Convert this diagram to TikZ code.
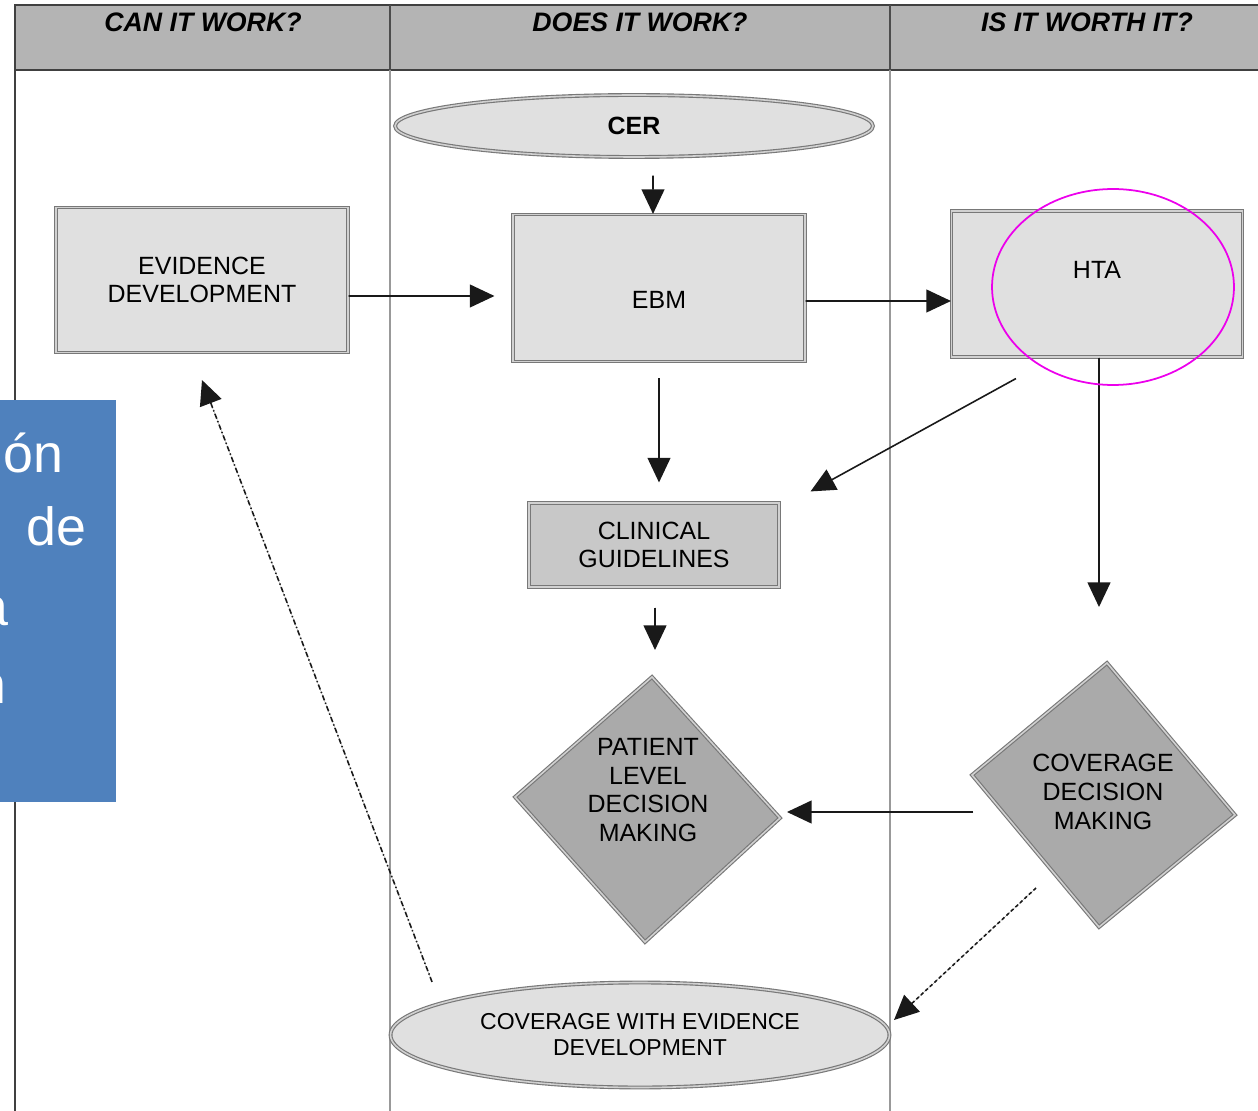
\documentclass[tikz,border=0pt]{standalone}
\usepackage{fontspec}
\setmainfont{Liberation Sans}
\setsansfont{Liberation Sans}
\usetikzlibrary{arrows.meta,positioning,shapes.geometric}
\definecolor{hdrgray}{RGB}{180,180,180}
\definecolor{boxgray}{RGB}{224,224,224}
\definecolor{cggray}{RGB}{200,200,200}
\definecolor{dmgray}{RGB}{170,170,170}
\definecolor{rimgray}{RGB}{120,120,120}
\definecolor{slideblue}{RGB}{79,129,189}
\definecolor{markmag}{RGB}{236,0,236}
\newcommand{\boxfont}{\fontsize{14.2}{16.4}\selectfont}
\newcommand{\cwedfont}{\fontsize{13.1}{14.8}\selectfont}
\newcommand{\hdrfont}{\fontsize{15.2}{18}\selectfont\bfseries\itshape}
\newcommand{\slidefont}{\fontsize{30.6}{36}\selectfont}
\tikzset{
  rim/.style={draw=rimgray, line width=0.65pt, double=black!18, double distance=0.9pt},
  pbox/.style={rim, fill=boxgray, rectangle, align=center, font=\boxfont},
  oval/.style={rim, fill=boxgray, ellipse, align=center, inner sep=0pt},
  dshape/.style={rim, fill=dmgray, line join=miter},
  dtext/.style={align=center, font=\boxfont, inner sep=0pt},
  hdr/.style={font=\hdrfont, inner sep=0pt},
  lane/.style={draw=black!40, line width=1.5pt},
  arr/.style={-{Triangle[length=14pt,width=13pt]}, line width=0.9pt, draw=black!90, fill=black},
  slidetxt/.style={font=\slidefont, text=white, inner sep=0pt, anchor=base east}
}

\begin{document}
\begin{tikzpicture}[x=0.02cm, y=-0.02cm]
  \useasboundingbox (0,0) rectangle (1258,1111);
  % header band and lanes
  \fill[hdrgray] (15,5) rectangle (1270,70);
  \draw[black!75, line width=1.2pt] (1270,5) -- (15,5) -- (15,1120);
  \draw[black!75, line width=1.2pt] (15,70) -- (1270,70);
  \foreach \lx in {390,890} {
    \draw[black!70, line width=1.2pt] (\lx,5) -- (\lx,70);
    \draw[lane] (\lx,70) -- (\lx,1120);
  }
  \node[hdr] (hcan) at (203,22) {CAN IT WORK?};
  \node[hdr] (hdoes) at (640,22) {DOES IT WORK?};
  \node[hdr] (hworth) at (1087,22) {IS IT WORTH IT?};
  %
  % boxes and ovals
  \node[oval, minimum width=9.56cm, minimum height=1.24cm, font=\boxfont\bfseries] (cer) at (634,126) {CER};
  \node[pbox, minimum width=5.84cm, minimum height=2.9cm] (evdev) at (202,280) {EVIDENCE\\DEVELOPMENT};
  \node[pbox, minimum width=5.84cm, minimum height=2.94cm] (ebm) at (659,288) {};
  \node[dtext] (ebmtxt) at (659,300) {EBM};
  \node[pbox, minimum width=5.82cm, minimum height=2.92cm] (hta) at (1097,284) {};
  \node[dtext] (htatxt) at (1097,270) {HTA};
  \node[pbox, fill=cggray, minimum width=5cm, minimum height=1.68cm] (cg) at (654,545) {CLINICAL\\GUIDELINES};
  \node[oval, minimum width=9.98cm, minimum height=2.1cm, font=\cwedfont] (cwed) at (640,1035) {COVERAGE WITH EVIDENCE\\DEVELOPMENT};
  %
  % decision diamonds
  \path (652,677) coordinate (pT) (780,818) coordinate (pR) (645,942) coordinate (pB) (515,797) coordinate (pL);
  \path (1107,663) coordinate (cT) (1235,815) coordinate (cR) (1099,927) coordinate (cB) (972,775) coordinate (cL);
  \draw[dshape] (pT) -- (pR) -- (pB) -- (pL) -- cycle;
  \draw[dshape] (cT) -- (cR) -- (cB) -- (cL) -- cycle;
  \node[dtext] (pldm) at (648,790) {PATIENT\\LEVEL\\DECISION\\MAKING};
  \node[dtext] (cdm) at (1103,792) {COVERAGE\\DECISION\\MAKING};
  %
  % connectors
  \draw[arr, shorten <=0.36cm] ([xshift=0.38cm]cer.south) -- ([xshift=-0.12cm]ebm.north);
  \draw[arr, shorten >=0.36cm] ([yshift=-0.32cm]evdev.east) -- ([yshift=-0.16cm]ebm.west);
  \draw[arr] ([yshift=-0.26cm]ebm.east) -- ([yshift=-0.34cm]hta.west);
  \draw[arr, shorten <=0.32cm, shorten >=0.4cm] (ebm.south) -- (ebm.south |- cg.north);
  \draw[arr] ([xshift=1.3cm,yshift=-0.42cm]hta.south west) -- ([xshift=0.62cm,yshift=0.22cm]cg.north east);
  \draw[arr, shorten >=1.12cm] ([xshift=0.04cm]hta.south) -- ([xshift=0.04cm]hta.south |- cT);
  \draw[arr, shorten <=0.4cm, shorten >=0.54cm] ([xshift=0.02cm]cg.south) -- ([xshift=0.02cm]cg.south |- pT);
  \draw[arr] (cL) ++(1,37) -- ++(-186,0);
  \draw[arr, dash pattern=on 2pt off 1.5pt] (cB) ++(-63,-39) -- ([xshift=0.08cm,yshift=0.3cm]cwed.east);
  \draw[arr, dash pattern=on 3pt off 1.4pt on 0.8pt off 1.4pt] ([xshift=-4.16cm]cwed.north) -- ([yshift=-0.54cm]evdev.south);
  %
  % highlight ring
  \draw[markmag, line width=1pt] (1113,287) ellipse [x radius=2.42cm, y radius=1.96cm];
  %
  % slide overlay
  \fill[slideblue] (0,400) rectangle (116,802);
  \node[slidetxt] (sl1) at (64,473) {ón};
  \node[slidetxt] (sl2) at (87,545) {de};
  \node[slidetxt] (sl3) at (9,625) {a};
  \node[slidetxt] (sl4) at (7,703) {n};
\end{tikzpicture}
\end{document}
